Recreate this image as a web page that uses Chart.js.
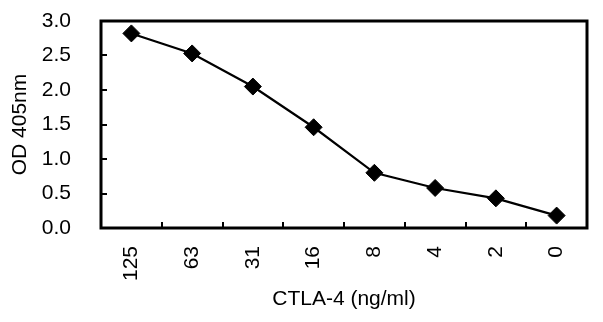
<!DOCTYPE html>
<html>
<head>
<meta charset="utf-8">
<script src="https://cdn.jsdelivr.net/npm/chart.js@4/dist/chart.umd.min.js"></script>
<style>
  body { margin: 0; background: #fff; }
  canvas { display: block; }
</style>
</head>
<body>
<canvas id="grafica" width="603" height="322"></canvas>
<script>
const doses = ['125', '63', '31', '16', '8', '4', '2', '0'];
const od405 = [2.82, 2.53, 2.05, 1.46, 0.80, 0.58, 0.43, 0.18];
const yTitle = 'OD 405nm';
const xTitle = 'CTLA-4 (ng/ml)';

const fuente = { family: "'Liberation Sans', Arial, sans-serif", size: 21 };

// box around the plot + short ticks pointing inwards
const marco = {
  id: 'marco',
  afterDraw(chart) {
    const { ctx, chartArea: a, scales } = chart;
    const x = scales.x, y = scales.y;
    ctx.save();
    ctx.strokeStyle = '#000';
    ctx.lineWidth = 3;
    ctx.strokeRect(a.left, a.top, a.right - a.left, a.bottom - a.top);
    ctx.lineWidth = 2;
    ctx.beginPath();
    y.ticks.forEach(t => {
      if (t.value <= y.min || t.value >= y.max) return;
      const py = Math.round(y.getPixelForValue(t.value));
      ctx.moveTo(a.left, py);
      ctx.lineTo(a.left + 6, py);
    });
    const paso = x.getPixelForValue(1) - x.getPixelForValue(0);
    for (let i = 1; i < doses.length; i++) {
      const px = Math.round(x.getPixelForValue(i) - paso / 2);
      ctx.moveTo(px, a.bottom);
      ctx.lineTo(px, a.bottom - 6);
    }
    ctx.stroke();
    ctx.restore();
  }
};

new Chart(document.getElementById('grafica').getContext('2d'), {
  type: 'line',
  data: {
    labels: doses,
    datasets: [{
      data: od405,
      borderColor: '#000',
      borderWidth: 2.2,
      backgroundColor: '#000',
      pointStyle: 'rectRot',
      pointRadius: 8.5,
      pointBorderWidth: 1,
      pointBackgroundColor: '#000',
      tension: 0
    }]
  },
  plugins: [marco],
  options: {
    responsive: false,
    animation: false,
    layout: { padding: { left: 8, right: 16, top: 21, bottom: 0 } },
    plugins: { legend: { display: false }, tooltip: { enabled: false } },
    scales: {
      x: {
        offset: true,
        grid: { display: false, drawTicks: false },
        border: { display: false },
        ticks: {
          color: '#000', font: fuente, padding: 18,
          minRotation: 90, maxRotation: 90, autoSkip: false
        },
        title: { display: true, text: xTitle, color: '#000', font: fuente, padding: { top: 4, bottom: 10 } },
        afterFit(s) { s.height = 94; }
      },
      y: {
        min: 0,
        max: 3,
        grid: { display: false, drawTicks: false },
        border: { display: false },
        ticks: {
          stepSize: 0.5, color: '#000', font: fuente, padding: 30,
          callback: v => v.toFixed(1)
        },
        title: { display: true, text: yTitle, color: '#000', font: fuente, padding: { top: 0, bottom: 8 } },
        afterFit(s) {
          s.width = 93;
          s.paddingTop = 0;
          s.paddingBottom = 0;
        }
      }
    }
  }
});
</script>
</body>
</html>
